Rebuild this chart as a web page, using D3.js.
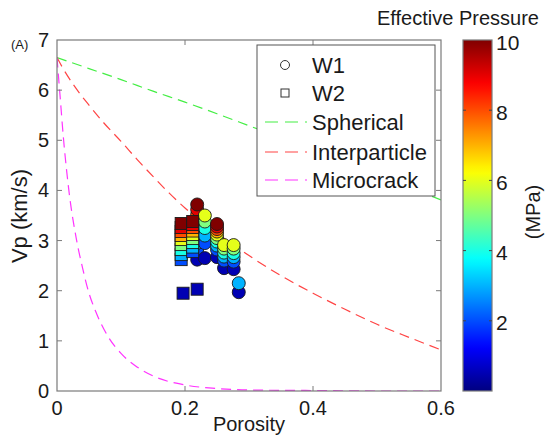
<!DOCTYPE html>
<html><head><meta charset="utf-8">
<script src="https://cdn.jsdelivr.net/npm/d3@7/dist/d3.min.js"></script>
<style>
body{margin:0;background:#fff}
svg{font-family:"Liberation Sans",Arial,sans-serif;display:block}
</style>
</head><body>
<svg id="chart" width="547" height="436"></svg>
<script>
// ---------- data ----------
const xTicks = [0, 0.2, 0.4, 0.6];
const yTicks = [0, 1, 2, 3, 4, 5, 6, 7];
const cbTicks = [2, 4, 6, 8, 10];
const legendLabels = ["W1", "W2", "Spherical", "Interparticle", "Microcrack"];

// W1 (circles): porosity, effective pressure (MPa), Vp (km/s)
const w1Porosity = [
  0.219,0.219,0.219,0.219,0.219,0.219,0.219,0.219,0.219,0.219,
  0.231,0.231,0.231,0.231,0.231,0.231,
  0.250,0.250,0.250,0.250,0.250,0.250,0.250,0.250,0.250,0.250,
  0.261,0.261,0.261,0.261,0.261,0.261,
  0.276,0.276,0.276,0.276,0.276,0.276,
  0.284,0.284
];
const w1Pressure = [
  0.5,2,3,4,5,6,7,8,9,10,
  0.5,2,3,4,5,6,
  0.5,2,3,4,5,6,7,8,9,10,
  0.5,2,3,4,5,6,
  0.5,2,3,4,5,6,
  0.5,3
];
const w1Vp = [
  2.62,2.82,2.95,3.08,3.20,3.32,3.42,3.52,3.62,3.72,
  2.65,2.95,3.10,3.25,3.38,3.50,
  2.67,2.82,2.90,2.98,3.05,3.12,3.18,3.23,3.28,3.33,
  2.45,2.60,2.68,2.76,2.84,2.91,
  2.43,2.58,2.67,2.75,2.84,2.91,
  1.97,2.15
];

// W2 (squares)
const w2Porosity = [
  0.197,0.194,0.194,0.194,0.194,0.194,0.194,0.194,0.194,0.194,
  0.219,0.212,0.212,0.212,0.212,0.212,0.212,0.212,0.212,0.212
];
const w2Pressure = [
  0.5,2,3,4,5,6,7,8,9,10,
  0.5,2,3,4,5,6,7,8,9,10
];
const w2Vp = [
  1.95,2.62,2.72,2.82,2.92,3.02,3.10,3.18,3.26,3.34,
  2.03,2.78,2.87,2.96,3.04,3.12,3.19,3.26,3.32,3.38
];

// model curves
const sphericalPorosity = [0,0.05,0.1,0.15,0.2,0.25,0.3,0.35,0.4,0.45,0.5,0.55,0.6];
const sphericalVp       = [6.65,6.43,6.21,5.98,5.76,5.53,5.29,5.05,4.80,4.55,4.30,4.06,3.81];
const interPorosity = [0,0.01,0.025,0.05,0.075,0.1,0.125,0.15,0.175,0.2,0.25,0.3,0.35,0.4,0.45,0.5,0.55,0.6];
const interVp       = [6.65,6.42,6.12,5.70,5.32,4.98,4.62,4.28,3.95,3.65,3.15,2.70,2.30,1.95,1.63,1.33,1.07,0.82];
const crackPorosity = [0,0.005,0.01,0.015,0.02,0.03,0.04,0.05,0.06,0.08,0.1,0.125,0.15,0.2,0.25,0.3,0.4,0.5,0.6];
const crackVp       = [6.65,5.85,5.05,4.40,3.85,3.05,2.45,1.95,1.60,1.08,0.75,0.48,0.30,0.12,0.05,0.02,0.01,0.0,0.0];

// ---------- layout ----------
const svg = d3.select("#chart");
const L = 57, R = 441, T = 40, B = 391;
const x = d3.scaleLinear().domain([0, 0.6]).range([L, R]);
const y = d3.scaleLinear().domain([0, 7]).range([B, T]);
const cbX0 = 463, cbX1 = 492;
const cy = d3.scaleLinear().domain([0, 10]).range([B, T]);
const axisColor = "#7a7a7a", textColor = "#1a1a1a";

function jet(t) {
  const c = v => Math.max(0, Math.min(1, v));
  const r = c(1.5 - Math.abs(4 * t - 3));
  const g = c(1.5 - Math.abs(4 * t - 2));
  const b = c(1.5 - Math.abs(4 * t - 1));
  return d3.rgb(r * 255, g * 255, b * 255).formatHex();
}
const color = p => jet(p / 10);

// clip
svg.append("clipPath").attr("id", "clip").append("rect")
  .attr("x", L).attr("y", T).attr("width", R - L).attr("height", B - T);

// curves
const curves = [
  {px: sphericalPorosity, vy: sphericalVp, col: "#44ee44"},
  {px: interPorosity, vy: interVp, col: "#ff4444"},
  {px: crackPorosity, vy: crackVp, col: "#ff33ff"}
];
const line = d3.line().x(d => x(d[0])).y(d => y(d[1])).curve(d3.curveMonotoneX);
const cg = svg.append("g").attr("clip-path", "url(#clip)");
curves.forEach(c => {
  cg.append("path")
    .attr("d", line(c.px.map((p, i) => [p, c.vy[i]])))
    .attr("fill", "none").attr("stroke", c.col)
    .attr("stroke-width", 1.2).attr("stroke-dasharray", "10,6");
});

// points
const w1 = w1Porosity.map((p, i) => ({p, pr: w1Pressure[i], v: w1Vp[i]}));
const w2 = w2Porosity.map((p, i) => ({p, pr: w2Pressure[i], v: w2Vp[i]}));
svg.append("g").selectAll("circle").data(w1).join("circle")
  .attr("cx", d => x(d.p)).attr("cy", d => y(d.v)).attr("r", 6.5)
  .attr("fill", d => color(d.pr)).attr("stroke", "#1a1a1a").attr("stroke-width", 0.9);
const s = 12;
svg.append("g").selectAll("rect").data(w2).join("rect")
  .attr("x", d => x(d.p) - s / 2).attr("y", d => y(d.v) - s / 2)
  .attr("width", s).attr("height", s)
  .attr("fill", d => color(d.pr)).attr("stroke", "#1a1a1a").attr("stroke-width", 0.9);

// axes box and ticks
const ax = svg.append("g");
ax.append("rect").attr("x", L).attr("y", T).attr("width", R - L).attr("height", B - T)
  .attr("fill", "none").attr("stroke", axisColor).attr("stroke-width", 1.2);
const tl = 5;
xTicks.forEach(t => {
  if (t > 0 && t < 0.6) {
    ax.append("line").attr("x1", x(t)).attr("x2", x(t)).attr("y1", B).attr("y2", B - tl).attr("stroke", axisColor);
    ax.append("line").attr("x1", x(t)).attr("x2", x(t)).attr("y1", T).attr("y2", T + tl).attr("stroke", axisColor);
  }
  ax.append("text").attr("x", x(t)).attr("y", 415).attr("text-anchor", "middle")
    .attr("font-size", 20).attr("fill", textColor).text(d3.format("")(t));
});
yTicks.forEach(t => {
  if (t > 0 && t < 7) {
    ax.append("line").attr("x1", L).attr("x2", L + tl).attr("y1", y(t)).attr("y2", y(t)).attr("stroke", axisColor);
    ax.append("line").attr("x1", R).attr("x2", R - tl).attr("y1", y(t)).attr("y2", y(t)).attr("stroke", axisColor);
  }
  ax.append("text").attr("x", 49).attr("y", y(t)).attr("dy", "0.35em").attr("text-anchor", "end")
    .attr("font-size", 20).attr("fill", textColor).text(t);
});
svg.append("text").attr("x", 249).attr("y", 431).attr("text-anchor", "middle")
  .attr("font-size", 20).attr("fill", textColor).text("Porosity");
svg.append("text").attr("transform", "translate(27,216) rotate(-90)").attr("text-anchor", "middle")
  .attr("font-size", 22).attr("fill", textColor).text("Vp (km/s)");
svg.append("text").attr("x", 11).attr("y", 49).attr("font-size", 13).attr("fill", textColor).text("(A)");

// legend
const lg = svg.append("g");
lg.append("rect").attr("x", 257).attr("y", 45).attr("width", 178).attr("height", 151)
  .attr("fill", "#fff").attr("stroke", "#555").attr("stroke-width", 1);
const rowsY = [65, 93, 122, 152, 180];
lg.append("circle").attr("cx", 285).attr("cy", rowsY[0]).attr("r", 4.5)
  .attr("fill", "#fff").attr("stroke", "#333").attr("stroke-width", 1);
lg.append("rect").attr("x", 281).attr("y", rowsY[1] - 4).attr("width", 8).attr("height", 8)
  .attr("fill", "#fff").attr("stroke", "#333").attr("stroke-width", 1);
curves.forEach((c, i) => {
  lg.append("line").attr("x1", 265).attr("x2", 307).attr("y1", rowsY[i + 2]).attr("y2", rowsY[i + 2])
    .attr("stroke", c.col).attr("stroke-width", 1.2).attr("stroke-dasharray", "13,7");
});
legendLabels.forEach((t, i) => {
  lg.append("text").attr("x", 312).attr("y", rowsY[i]).attr("dy", "0.36em")
    .attr("font-size", 22).attr("fill", textColor).text(t);
});

// colorbar
const defs = svg.append("defs");
const grad = defs.append("linearGradient").attr("id", "jet").attr("x1", 0).attr("y1", 1).attr("x2", 0).attr("y2", 0);
d3.range(0, 1.0001, 0.02).forEach(t => grad.append("stop").attr("offset", t).attr("stop-color", jet(t)));
svg.append("rect").attr("x", cbX0).attr("y", T).attr("width", cbX1 - cbX0).attr("height", B - T)
  .attr("fill", "url(#jet)").attr("stroke", axisColor).attr("stroke-width", 1.2);
cbTicks.forEach(t => {
  if (t < 10) {
    svg.append("line").attr("x1", cbX0).attr("x2", cbX0 + 3).attr("y1", cy(t)).attr("y2", cy(t)).attr("stroke", "#444");
    svg.append("line").attr("x1", cbX1).attr("x2", cbX1 - 3).attr("y1", cy(t)).attr("y2", cy(t)).attr("stroke", "#444");
  }
  svg.append("text").attr("x", 496).attr("y", cy(t) + (t === 10 ? 3 : 2)).attr("dy", "0.35em")
    .attr("font-size", 21).attr("fill", textColor).text(t);
});
svg.append("text").attr("transform", "translate(540,212) rotate(-90)").attr("text-anchor", "middle")
  .attr("font-size", 20).attr("fill", textColor).text("(MPa)");
svg.append("text").attr("x", 458).attr("y", 25).attr("text-anchor", "middle")
  .attr("font-size", 20).attr("fill", textColor).text("Effective Pressure");
</script>
</body></html>
